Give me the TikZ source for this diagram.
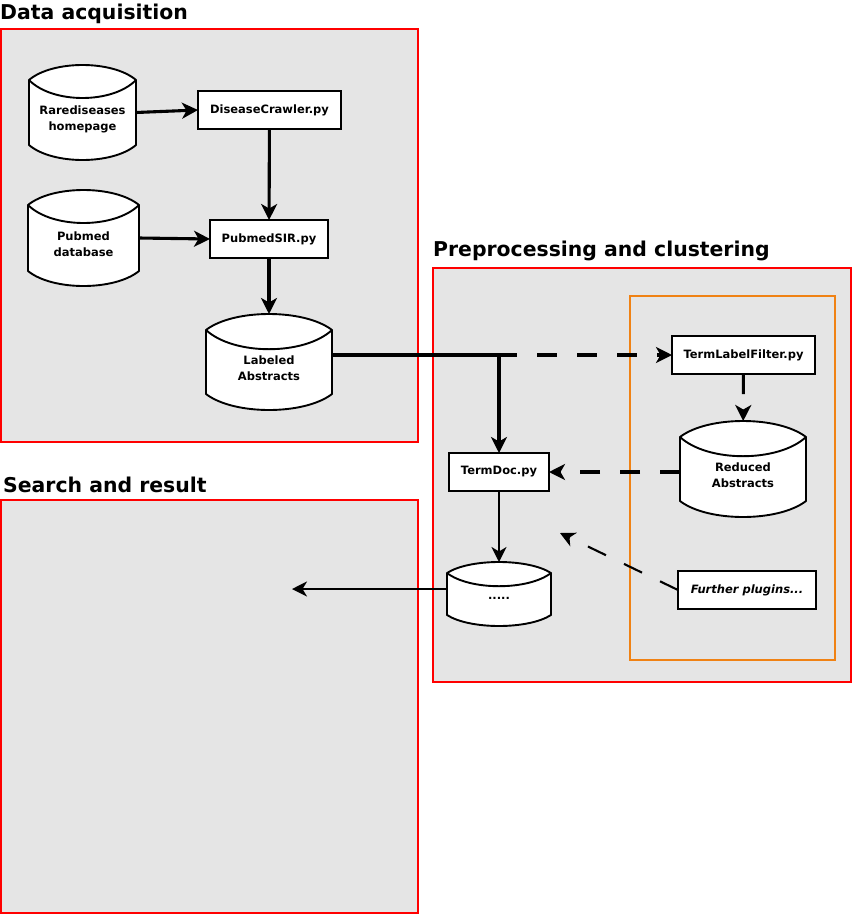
\documentclass[tikz,border=0pt]{standalone}
\usepackage{fontspec}
\setmainfont{DejaVu Sans}
\usetikzlibrary{arrows.meta,calc}
\definecolor{panelgray}{RGB}{229,229,229}
\definecolor{orangeb}{RGB}{240,130,20}
\tikzset{
  panel/.style={draw=red, fill=panelgray, line width=1.6pt, inner sep=0pt, outer sep=0pt},
  plugbox/.style={draw=orangeb, line width=1.6pt, inner sep=0pt, outer sep=0pt},
  titletext/.style={font=\fontsize{20.4}{23}\selectfont\bfseries, anchor=base west, inner sep=0pt},
  procbox/.style={draw, fill=white, line width=1.9pt, font=\fontsize{11.5}{16}\selectfont\bfseries, minimum height=38pt, inner sep=0pt, outer sep=0pt},
  cylnode/.style={inner sep=0pt, outer sep=0pt, font=\fontsize{11.5}{16}\selectfont\bfseries},
  cylshape/.style={draw, fill=white, line width=1.9pt, line join=round},
  thickarrow/.style={line width=3.1pt, -{Stealth[length=16pt,width=16pt,inset=4.5pt]}},
  thinarrow/.style={line width=2.1pt, -{Stealth[length=15pt,width=15pt,inset=4.5pt]}},
  dashes/.style={dash pattern=on 20pt off 20pt},
}
% name, x0, y0, x1, y1, cap, raise, text
\newcommand\dbcyl[8]{%
  \filldraw[cylshape] ({#2},{#3+#6}) .. controls ({#2+0.22*(#4-#2)},{#3-#6/3}) and ({#4-0.22*(#4-#2)},{#3-#6/3}) .. ({#4},{#3+#6})
     -- ({#4},{#5-#6}) .. controls ({#4-0.22*(#4-#2)},{#5+#6/3}) and ({#2+0.22*(#4-#2)},{#5+#6/3}) .. ({#2},{#5-#6}) -- cycle;
  \draw[cylshape, fill=none] ({#2},{#3+#6}) .. controls ({#2+0.22*(#4-#2)},{#3+#6+1.6*#6}) and ({#4-0.22*(#4-#2)},{#3+#6+1.6*#6}) .. ({#4},{#3+#6});
  \node[cylnode, minimum width={(#4-#2)*1pt}, minimum height={(#5-#3)*1pt}] (#1) at ({(#2+#4)/2},{(#3+#5)/2})
     {\raisebox{-#7pt}[0pt][0pt]{\begin{tabular}{@{}c@{}}#8\end{tabular}}};
}
\begin{document}
\begin{tikzpicture}[x=1pt,y=-1pt]
\useasboundingbox (0,0) rectangle (854,916);
% panels
\node[panel, minimum width=417pt, minimum height=413pt] (pA) at (209.5,235.5) {};
\node[panel, minimum width=418pt, minimum height=414pt] (pB) at (642,475) {};
\node[panel, minimum width=417pt, minimum height=413pt] (pC) at (209.5,706.5) {};
\node[plugbox, minimum width=205pt, minimum height=364pt] (pO) at (732.5,478) {};
% titles
\node[titletext] (tA) at (0,19) {Data acquisition};
\node[titletext] (tB) at (433,256) {Preprocessing and clustering};
\node[titletext] (tC) at (3,492) {Search and result};
% data stores
\dbcyl{rd}{29}{65}{136}{160}{15}{10}{Rarediseases\\homepage}
\dbcyl{pm}{28}{190}{139}{286}{15}{10}{Pubmed\\database}
\dbcyl{lab}{206}{314}{332}{410}{16}{10}{Labeled\\Abstracts}
\dbcyl{red}{680}{421}{806}{517}{16}{10}{Reduced\\Abstracts}
\dbcyl{dots}{447}{562}{551}{626}{11}{5.5}{.....}
% process boxes
\node[procbox, minimum width=143pt] (dc) at (269.5,110) {DiseaseCrawler.py};
\node[procbox, minimum width=118pt] (ps) at (269,239) {PubmedSIR.py};
\node[procbox, minimum width=143pt] (tlf) at (743.5,355) {TermLabelFilter.py};
\node[procbox, minimum width=100pt] (tdoc) at (499,472) {TermDoc.py};
\node[procbox, minimum width=138pt, font=\fontsize{11.5}{16}\selectfont\bfseries\itshape] (fp) at (747,590) {Further plugins...};
% free ends
\coordinate (sr) at (292,589);
\coordinate (fpend) at (560,533);
% connectors
\draw[thickarrow] (rd.east) -- (dc.west);
\draw[thickarrow] (dc) -- (ps);
\draw[thickarrow] (pm.east) -- (ps.west);
\draw[thickarrow] (ps) -- (lab);
\draw[thickarrow] ([yshift=7pt]lab.east) -| (tdoc.north);
\coordinate (j1) at ([yshift=7pt]lab.east -| tdoc.north);
\draw[thickarrow, dashes, dash phase=2pt] (j1) -- (tlf.west);
\draw[thickarrow, dashes] (tlf) -- (red);
\draw[thickarrow, dashes] (red.west |- tdoc.east) -- (tdoc.east);
\draw[thinarrow] (tdoc) -- (dots);
\draw[thinarrow] (dots.west |- sr) -- (sr);
\draw[thinarrow, dashes] (fp.west) -- (fpend);
\end{tikzpicture}
\end{document}
